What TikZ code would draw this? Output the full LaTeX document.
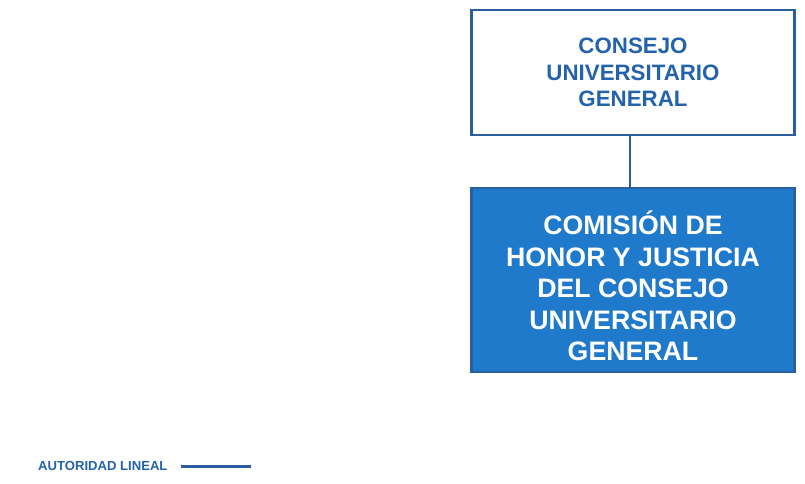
\documentclass[tikz,border=0pt]{standalone}
\usepackage{fontspec}
\setmainfont{Liberation Sans}
\usepackage{xcolor}
\usetikzlibrary{positioning}
\definecolor{orgtext}{HTML}{2463AC}
\definecolor{orgline}{HTML}{2B5E9E}
\definecolor{orgfill}{HTML}{1F7ACB}
\tikzset{
  organo/.style={draw=orgline, line width=2.2pt, minimum width=323pt, align=center, font=\bfseries},
  linea/.style={draw=orgline, line width=2.2pt}
}

\begin{document}
\begin{tikzpicture}[x=1pt, y=-1pt]
    \useasboundingbox (0,0) rectangle (805,484);
    % Consejo
    \node[organo, fill=white, text=orgtext, minimum height=125pt, font=\bfseries\fontsize{22.3}{26.5}\selectfont] (consejo) at (633,72.5) {CONSEJO\\UNIVERSITARIO\\GENERAL};
    % Comision
    \node[organo, fill=orgfill, minimum height=184pt] (comision) at (633,280) {};
    \node[text=white, align=center, font=\bfseries\fontsize{26.7}{31.5}\selectfont] (comisiontexto) at ([yshift=-6pt]comision.center) {COMISIÓN DE\\HONOR Y JUSTICIA\\DEL CONSEJO\\UNIVERSITARIO\\GENERAL};
    \draw[linea] (consejo.south -| 630,0) -- (comision.north -| 630,0);
    % Leyenda
    \node[anchor=west, text=orgtext, font=\bfseries\fontsize{13.1}{15}\selectfont, inner sep=0pt] (leyenda) at (38,466) {AUTORIDAD LINEAL};
    \draw[linea, line width=3pt] ([xshift=13pt]leyenda.east) -- ([xshift=83pt]leyenda.east);
\end{tikzpicture}
\end{document}
